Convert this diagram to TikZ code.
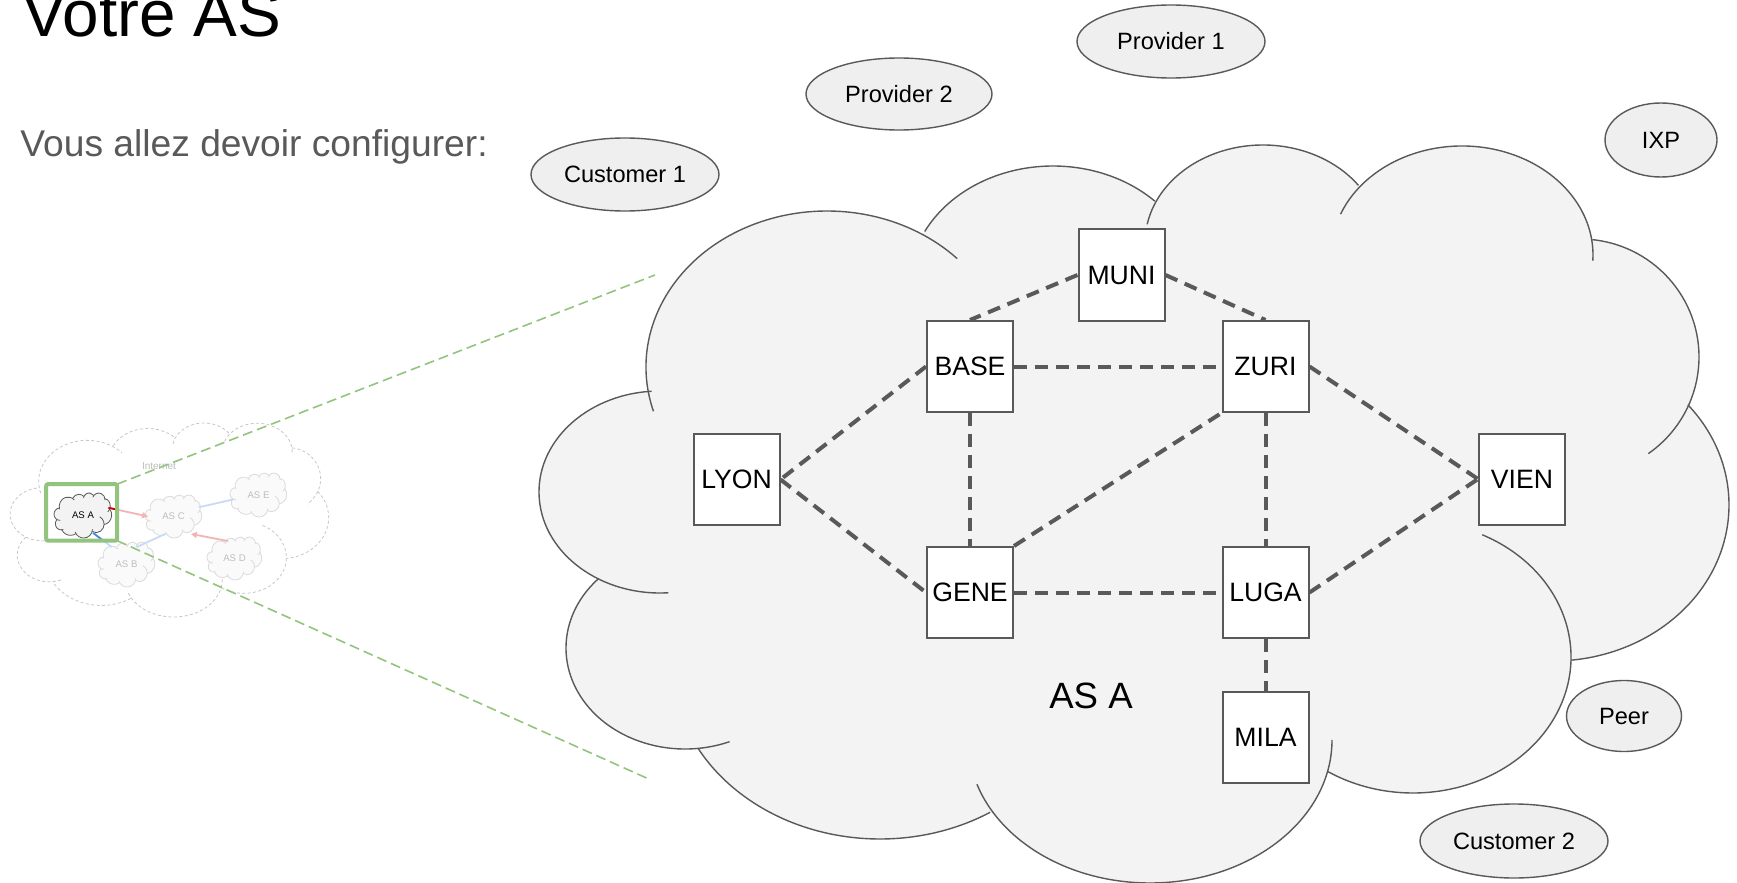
\documentclass[tikz,border=0pt]{standalone}
\usepackage{fontspec}
\setmainfont{Liberation Sans}
\usetikzlibrary{shapes.geometric,arrows.meta}
\pgfdeclarelayer{cloud}
\pgfdeclarelayer{bg}
\pgfsetlayers{cloud,bg,main}

\definecolor{rim}{HTML}{595959}
\definecolor{cloudgray}{HTML}{F3F3F3}
\definecolor{ovalgray}{HTML}{EFEFEF}
\definecolor{zoomgreen}{HTML}{93C47D}
\definecolor{fadered}{HTML}{F4B4B4}
\definecolor{darkred}{HTML}{CC0000}
\definecolor{fadeblue}{HTML}{C9DAF8}
\definecolor{linkblue}{HTML}{4A86E8}
\definecolor{faint}{HTML}{BDBDBD}

% bumps of the cloud: centre x/centre y/x radius/y radius/start/end
\def\bumpfill{827/367/181/156/172/302, 1053/286/144/120/207/315,
  1263/243/118/98/205/324, 1462/255/131/109/219/351, 1580/357/119/118/276/385,
  1553/505/176/156/320/444, 1413/657/158/136/360/482.5, 1150/740/182/143/13/149,
  880/663/208/176/58/151, 685/648/119/101/84/223.5, 660/492/121/101/121/266}
\def\bumprim{827/367/181/156/163.5/316, 1053/286/144/120/207/315,
  1263/243/118/98/191/324, 1462/255/131/109/202/363, 1580/357/119/118/276/415,
  1553/505/176/156/320/444, 1413/657/158/136/296/482.5, 1150/740/182/143/0/162,
  880/663/208/176/58/151, 685/648/119/101/68/223.5, 660/492/121/101/86/266}
\newcommand\drawcloud[2]{%
  \fill[#1] (647.8,388.7) \foreach \cx/\cy/\rx/\ry/\angA/\angB in \bumpfill
    { -- ({\cx+\rx*cos(\angA)},{\cy+\ry*sin(\angA)})
      arc[start angle=\angA, end angle=\angB, x radius=\rx, y radius=\ry] } -- cycle;
  \foreach \cx/\cy/\rx/\ry/\angA/\angB in \bumprim
    \draw[#2] ({\cx+\rx*cos(\angA)},{\cy+\ry*sin(\angA)})
      arc[start angle=\angA, end angle=\angB, x radius=\rx, y radius=\ry];
}

\begin{document}
\begin{tikzpicture}[x=0.5pt, y=-0.5pt,
    router/.style={draw=rim, line width=1pt, fill=white, minimum width=43pt,
      minimum height=45.5pt, inner sep=0pt, font=\fontsize{13.3}{15}\selectfont},
    oval/.style={ellipse, draw=rim, line width=0.7pt, fill=ovalgray, inner sep=0pt,
      font=\fontsize{11.8}{14}\selectfont},
    link/.style={draw=rim, line width=2pt, dash pattern=on 6.5pt off 4pt},
    asnode/.style={minimum width=25pt, minimum height=17pt, inner sep=0pt,
      text=faint, font=\fontsize{4.8}{5}\selectfont},
    thumblink/.style={line width=0.9pt},
    tip/.style={-{Triangle[length=3pt,width=3pt]}}]
        \useasboundingbox (0,0) rectangle (1737,883);

        \node (title) [anchor=base west, inner sep=0pt, font=\fontsize{32.8}{38}\selectfont] at (22,37) {Votre AS};
        \node (intro) [anchor=base west, inner sep=0pt, text=rim, font=\fontsize{18.6}{22}\selectfont] at (20,157) {Vous allez devoir configurer:};

        \node (prov1) [oval, minimum width=94pt, minimum height=36.5pt] at (1171,41.5) {Provider 1};
        \node (prov2) [oval, minimum width=93pt, minimum height=36pt] at (899,94) {Provider 2};
        \node (cust1) [oval, minimum width=94pt, minimum height=36.5pt] at (625,174.5) {Customer 1};
        \node (ixp) [oval, minimum width=56pt, minimum height=37pt] at (1661,140) {IXP};
        \node (peer) [oval, minimum width=57.5pt, minimum height=35.5pt] at (1624,716) {Peer};
        \node (cust2) [oval, minimum width=94pt, minimum height=37pt] at (1514,841) {Customer 2};

        \node (muni) [router] at (1121.5,275) {MUNI};
        \node (base) [router] at (970,366.5) {BASE};
        \node (zuri) [router] at (1265.5,366.5) {ZURI};
        \node (lyon) [router] at (736.5,479.5) {LYON};
        \node (vien) [router] at (1522,479) {VIEN};
        \node (gene) [router] at (970,592.5) {GENE};
        \node (luga) [router] at (1265.5,592.5) {LUGA};
        \node (mila) [router] at (1265.5,737) {MILA};
        \node (asname) [font=\fontsize{18.3}{22}\selectfont] at (1091,696) {AS A};

        % small copy of the internet
        \node (inet) [text=faint, font=\fontsize{5}{6}\selectfont] at (159,466) {Internet};
        \node (asa) [asnode, text=black] at (83,515.5) {AS A};
        \node (asb) [asnode] at (126.5,564.5) {AS B};
        \node (asc) [asnode] at (173.5,516.5) {AS C};
        \node (asd) [asnode] at (234.5,558.5) {AS D};
        \node (ase) [asnode] at (258.5,495) {AS E};
        \node (zoom) [draw=zoomgreen, line width=2pt, rounded corners=1pt, outer sep=0pt,
          minimum width=35.5pt, minimum height=28.3pt] at (81.7,512.4) {};
        \coordinate (zt) at (655,275);
        \coordinate (zb) at (651,780);
        \draw [zoomgreen, line width=0.8pt, dash pattern=on 5pt off 2.5pt] (zoom.north east) -- (zt);
        \draw [zoomgreen, line width=0.8pt, dash pattern=on 5pt off 2.5pt] (zoom.south east) -- (zb);

        \begin{pgfonlayer}{cloud}
                \drawcloud{cloudgray}{rim, line width=0.7pt}
                \begin{scope}[shift={(10,423)}, xscale=0.2678, yscale=0.2629, shift={(-539,-145)}]
                        \drawcloud{white}{black!22, line width=0.4pt, dash pattern=on 1.5pt off 1.2pt}
                \end{scope}
                \begin{scope}[shift={(98,542)}, xscale=0.0477, yscale=0.061, shift={(-539,-145)}]
                        \drawcloud{black!2}{black!14, line width=0.4pt}
                \end{scope}
                \begin{scope}[shift={(145,495)}, xscale=0.0477, yscale=0.0583, shift={(-539,-145)}]
                        \drawcloud{black!2}{black!14, line width=0.4pt}
                \end{scope}
                \begin{scope}[shift={(207,537)}, xscale=0.046, yscale=0.0583, shift={(-539,-145)}]
                        \drawcloud{black!2}{black!14, line width=0.4pt}
                \end{scope}
                \begin{scope}[shift={(230,473)}, xscale=0.0477, yscale=0.0596, shift={(-539,-145)}]
                        \drawcloud{black!2}{black!14, line width=0.4pt}
                \end{scope}
                \begin{scope}[shift={(54,493)}, xscale=0.0485, yscale=0.061, shift={(-539,-145)}]
                        \drawcloud{cloudgray}{rim, line width=0.4pt}
                \end{scope}
        \end{pgfonlayer}

        \begin{pgfonlayer}{bg}
                \draw (muni.west) edge [link] (base.north);
                \draw (muni.east) edge [link] (zuri.north);
                \draw (base.east) edge [link] (zuri.west);
                \draw (base.west) edge [link] (lyon.east);
                \draw (lyon.east) edge [link] (gene.west);
                \draw (base.south) edge [link] (gene.north);
                \draw (gene.north east) edge [link] (zuri.south west);
                \draw (gene.east) edge [link] (luga.west);
                \draw (zuri.south) edge [link] (luga.north);
                \draw (zuri.east) edge [link] (vien.west);
                \draw (luga.east) edge [link] (vien.west);
                \draw (luga.south) edge [link] (mila.north);

                \draw (asa.17) edge [thumblink, fadered, tip] (asc.west);
                \draw (asa.-60) edge [thumblink, fadeblue] (asb.130);
                \draw (asb.60) edge [thumblink, fadeblue] (asc.245);
                \draw (asc.20) edge [thumblink, fadeblue] (ase.190);
                \draw (asd.110) edge [thumblink, fadered, tip] (asc.-45);
                \begin{scope}
                        \clip (zoom.south west) rectangle (zoom.north east);
                        \draw (asa.17) edge [thumblink, darkred] (asc.west);
                        \draw (asa.-60) edge [thumblink, linkblue] (asb.130);
                \end{scope}
        \end{pgfonlayer}
\end{tikzpicture}
\end{document}
